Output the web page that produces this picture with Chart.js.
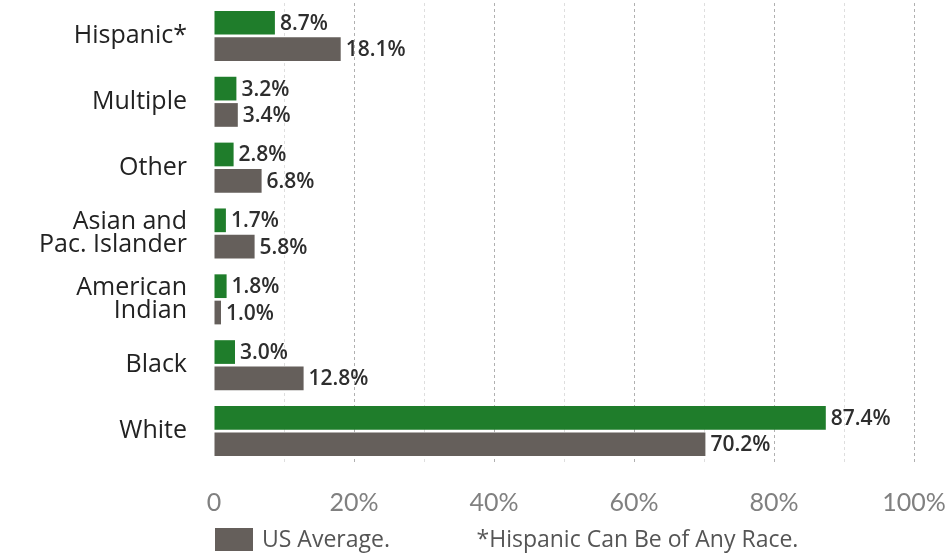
<!DOCTYPE html>
<html>
<head>
<meta charset="utf-8">
<script src="https://cdn.jsdelivr.net/npm/chart.js@4/dist/chart.umd.min.js"></script>
<style>
  html, body { margin: 0; padding: 0; background: #fff; }
  #wrap { width: 952px; height: 560px; position: relative; }
</style>
</head>
<body>
<div id="wrap"><canvas id="c" width="952" height="560"></canvas></div>
<script>
// Race / ethnicity breakdown: local share vs. US average (percent)
const categories = ['Hispanic*', 'Multiple', 'Other', ['Asian and', 'Pac. Islander'], ['American', 'Indian'], 'Black', 'White'];
const localShare = [8.7, 3.2, 2.8, 1.7, 1.8, 3.0, 87.4];
const usAverage = [18.1, 3.4, 6.8, 5.8, 1.0, 12.8, 70.2];
const xTicks = [0, 20, 40, 60, 80, 100];
const legendLabel = 'US Average.';
const footnote = '*Hispanic Can Be of Any Race.';

const GREEN = '#1f7d2b';
const GRAY = '#655f5b';
const FONT = '"Open Sans", Lato, sans-serif';

// Percent labels printed just past the end of each bar
const valueLabels = {
  id: 'valueLabels',
  afterDatasetsDraw(chart) {
    const ctx = chart.ctx;
    ctx.save();
    ctx.font = '600 21px ' + FONT;
    ctx.fillStyle = '#2e2e2e';
    ctx.textBaseline = 'middle';
    ctx.textAlign = 'left';
    chart.data.datasets.forEach((ds, i) => {
      chart.getDatasetMeta(i).data.forEach((bar, j) => {
        ctx.fillText(ds.data[j].toFixed(1) + '%', bar.x + 5, bar.y + 1);
      });
    });
    ctx.restore();
  }
};

// Bottom key: gray swatch for the US series plus the footnote
const bottomKey = {
  id: 'bottomKey',
  afterDraw(chart) {
    const ctx = chart.ctx;
    const area = chart.chartArea;
    const x = chart.scales.x;
    const y = area.bottom + 76;
    ctx.save();
    ctx.fillStyle = GRAY;
    ctx.fillRect(area.left + 1, y - 12, 38, 23);
    ctx.font = '23px ' + FONT;
    ctx.fillStyle = '#555';
    ctx.textBaseline = 'middle';
    ctx.textAlign = 'left';
    ctx.fillText(legendLabel, area.left + 48, y);
    ctx.fillText(footnote, x.getPixelForValue(37.5), y);
    ctx.restore();
  }
};

new Chart(document.getElementById('c'), {
  type: 'bar',
  data: {
    labels: categories,
    datasets: [
      { label: 'Local', data: localShare, backgroundColor: GREEN },
      { label: 'US Average', data: usAverage, backgroundColor: GRAY }
    ]
  },
  options: {
    indexAxis: 'y',
    responsive: false,
    animation: false,
    layout: { padding: { top: 3, right: 38, left: 0, bottom: 0 } },
    datasets: { bar: { categoryPercentage: 0.8, barPercentage: 0.9 } },
    plugins: { legend: { display: false }, tooltip: { enabled: false } },
    scales: {
      x: {
        min: 0, max: 100,
        afterFit(s) { s.height = 96; s.paddingLeft = 0; s.paddingRight = 0; },
        afterBuildTicks(s) { s.ticks = []; for (let v = 0; v <= 100; v += 10) s.ticks.push({ value: v }); },
        border: { display: false, dash: [3, 3] },
        grid: {
          drawTicks: false,
          lineWidth: 1,
          color: c => c.tick.value === 0 ? 'rgba(0,0,0,0)' : (c.tick.value % 20 === 0 ? '#b0b0b0' : '#dedede')
        },
        ticks: {
          autoSkip: false,
          maxRotation: 0,
          padding: 24,
          color: '#808080',
          font: { family: 'Lato, sans-serif', size: 25 },
          callback: v => xTicks.includes(v) ? (v === 0 ? '0' : v + '%') : ''
        }
      },
      y: {
        afterFit(s) { s.width = 214; s.paddingTop = 0; s.paddingBottom = 0; },
        border: { display: false },
        grid: { display: false, drawTicks: false },
        ticks: {
          padding: 27,
          color: '#222',
          font: { family: FONT, size: 25, lineHeight: 0.92 }
        }
      }
    }
  },
  plugins: [valueLabels, bottomKey]
});
</script>
</body>
</html>
